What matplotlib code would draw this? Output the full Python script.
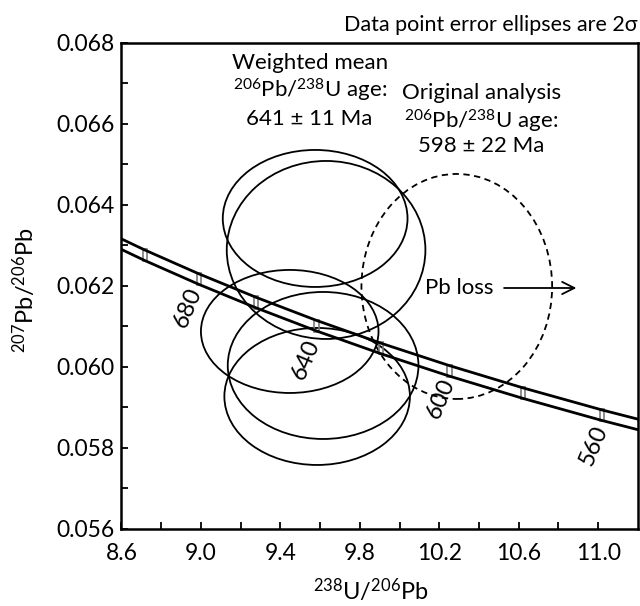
import matplotlib
matplotlib.use("Agg")
import matplotlib.pyplot as plt
from matplotlib.patches import Ellipse, Rectangle
import numpy as np

# concordia (Tera-Wasserburg) read at 20 Ma steps, with its band
conc_age = [720, 700, 680, 660, 640, 620, 600, 580, 560, 540]
conc_x = [8.463, 8.718, 8.989, 9.276, 9.581, 9.905, 10.252, 10.622, 11.019, 11.445]
conc_y_upper = [0.063481, 0.062887, 0.062301, 0.061723, 0.061151, 0.060589, 0.060032, 0.059483, 0.058939, 0.058403]
conc_y_lower = [0.063221, 0.062627, 0.062041, 0.061463, 0.060891, 0.060329, 0.059772, 0.059223, 0.058679, 0.058143]
marked_ages = [700, 680, 660, 640, 620, 600, 580, 560]
labelled_ages = [680, 640, 600, 560]
label_x = [8.934, 9.527, 10.206, 10.979]
label_y = [0.061457, 0.060173, 0.059210, 0.058074]

# data point error ellipses (2 sigma): centre, full width, full height
ell_x = [9.575, 9.630, 9.447, 9.615, 9.585]
ell_y = [0.063667, 0.062889, 0.060877, 0.060037, 0.059272]
ell_w = [0.930, 1.000, 0.894, 0.960, 0.934]
ell_h = [0.003383, 0.004395, 0.003038, 0.003630, 0.003383]

# original analysis (dashed)
orig_x, orig_y, orig_w, orig_h = 10.288, 0.061988, 0.960, 0.005556

x_ticks = [8.6, 9.0, 9.4, 9.8, 10.2, 10.6, 11.0]
y_ticks = [0.056, 0.058, 0.060, 0.062, 0.064, 0.066, 0.068]

FONT = ["Lato", "DejaVu Sans"]
plt.rcParams["font.family"] = FONT
plt.rcParams["mathtext.fontset"] = "custom"
plt.rcParams["mathtext.rm"] = "Lato"
plt.rcParams["mathtext.it"] = "Lato:italic"

fig = plt.figure(figsize=(6.4, 6.06), dpi=100)
ax = fig.add_axes([0.1898, 0.1271, 0.8070, 0.8020])
ax.set_xlim(8.6, 11.2)
ax.set_ylim(0.056, 0.068)

# concordia band
ax.plot(conc_x, conc_y_upper, color="black", lw=2.0, zorder=4)
ax.plot(conc_x, conc_y_lower, color="black", lw=2.0, zorder=4)
for age in marked_ages:
    i = conc_age.index(age)
    yc = (conc_y_upper[i] + conc_y_lower[i]) / 2
    ax.add_patch(Rectangle((conc_x[i] - 0.011, yc - 0.00015), 0.022, 0.0003,
                           fill=False, edgecolor="#7a7a7a", lw=1.2, zorder=3))
for age, lx, ly in zip(labelled_ages, label_x, label_y):
    ax.text(lx, ly, str(age), rotation=67, ha="center", va="center",
            fontsize=17, rotation_mode="anchor")

for x, y, w, h in zip(ell_x, ell_y, ell_w, ell_h):
    ax.add_patch(Ellipse((x, y), w, h, fill=False, edgecolor="black", lw=1.3, zorder=2))
ax.add_patch(Ellipse((orig_x, orig_y), orig_w, orig_h, fill=False, edgecolor="black",
                     lw=1.3, linestyle=(0, (3.5, 2.5)), zorder=2))

# annotations
ax.text(10.301, 0.06195, "Pb loss", ha="center", va="center", fontsize=16)
ax.annotate("", xy=(10.904, 0.06195), xytext=(10.512, 0.06195),
            arrowprops=dict(arrowstyle="->", color="black", lw=1.3, mutation_scale=22))
ax.text(9.547, 0.067505, "Weighted mean", ha="center", va="center", fontsize=16)
ax.text(9.547, 0.066840, r"$^{206}$Pb/$^{238}$U age:", ha="center", va="center", fontsize=16)
ax.text(9.547, 0.066125, "641 \u00b1 11 Ma", ha="center", va="center", fontsize=16)
ax.text(10.412, 0.066765, "Original analysis", ha="center", va="center", fontsize=16)
ax.text(10.412, 0.066074, r"$^{206}$Pb/$^{238}$U age:", ha="center", va="center", fontsize=16)
ax.text(10.412, 0.065457, "598 \u00b1 22 Ma", ha="center", va="center", fontsize=16)
fig.text(0.997, 0.958, "Data point error ellipses are 2\u03c3", ha="right", va="center",
         fontsize=15.5, family=FONT)

ax.set_xticks(x_ticks)
ax.set_xticklabels(["%.1f" % v for v in x_ticks])
ax.set_xticks(np.arange(8.8, 11.2, 0.4), minor=True)
ax.set_yticks(y_ticks)
ax.set_yticklabels(["%.3f" % v for v in y_ticks])
ax.set_yticks(np.arange(0.057, 0.068, 0.002), minor=True)
ax.tick_params(which="both", direction="in", length=5, width=1.3, labelsize=16.5,
               top=False, right=False)
ax.tick_params(axis="x", pad=10)
ax.tick_params(axis="y", pad=5)
for s in ax.spines.values():
    s.set_linewidth(1.8)

fig.text(371 / 640, 1 - 590 / 606, r"$^{238}$U/$^{206}$Pb", fontsize=17,
         ha="center", va="center")
fig.text(24 / 640, 1 - 290 / 606, r"$^{207}$Pb/$^{206}$Pb", fontsize=17,
         ha="center", va="center", rotation=90)

fig.savefig("out.png", dpi=100)
